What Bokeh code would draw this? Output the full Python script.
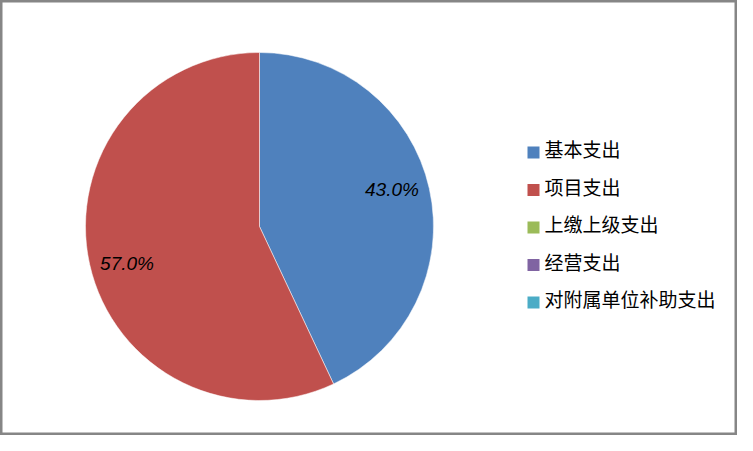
import math
from bokeh.plotting import figure
from bokeh.models import ColumnDataSource, Range1d
from bokeh.core.properties import value
from bokeh.embed import file_html
from bokeh.resources import INLINE

# chart data
categories = ["基本支出", "项目支出", "上缴上级支出", "经营支出", "对附属单位补助支出"]
shares = [43.0, 57.0, 0.0, 0.0, 0.0]
colors = ["#4F81BD", "#C0504D", "#9BBB59", "#8064A2", "#4BACC6"]

W, H = 737, 435
cx, cy = 259, H - 226
radius = 174

p = figure(width=W, height=H, output_backend="svg", toolbar_location=None,
           x_range=Range1d(0, W), y_range=Range1d(0, H), min_border=0)
p.axis.visible = False
p.grid.visible = False
p.background_fill_color = "white"
p.border_fill_color = "white"
p.outline_line_color = "#868686"
p.outline_line_width = 4

# wedges, clockwise from 12 o'clock
total = sum(shares)
start = math.pi / 2
xs, ys, st, en, cols, lx, ly, labels = [], [], [], [], [], [], [], []
for cat, v, c in zip(categories, shares, colors):
    if v <= 0:
        continue
    sweep = 2 * math.pi * v / total
    end = start - sweep
    mid = (start + end) / 2 + 0.05
    xs.append(cx)
    ys.append(cy)
    st.append(start)
    en.append(end)
    cols.append(c)
    lx.append(cx + 0.79 * radius * math.cos(mid))
    ly.append(cy + 0.79 * radius * math.sin(mid))
    labels.append("%.1f%%" % v)
    start = end

src = ColumnDataSource(dict(x=xs, y=ys, s=st, e=en, c=cols))
p.wedge(x="x", y="y", radius=radius, start_angle="s", end_angle="e",
        direction="clock", fill_color="c", line_color="white", line_width=0.5,
        source=src)

p.text(x=lx, y=ly, text=labels, text_align="center", text_baseline="middle",
       text_font=value("Liberation Sans"), text_font_style="italic",
       text_font_size="19px", text_color="#000000")

# legend
row0 = H - 152
step = 37.5
leg_y = [row0 - i * step for i in range(len(categories))]
p.scatter(x=[533] * len(categories), y=leg_y, marker="square", size=12,
          fill_color=colors, line_color=None)
p.text(x=[544] * len(categories), y=[v + 4 for v in leg_y], text=categories,
       text_align="left", text_baseline="middle",
       text_font=value("Noto Sans CJK SC"), text_font_size="19px",
       text_color="#000000")

open("out.html", "w").write(file_html(p, INLINE))
